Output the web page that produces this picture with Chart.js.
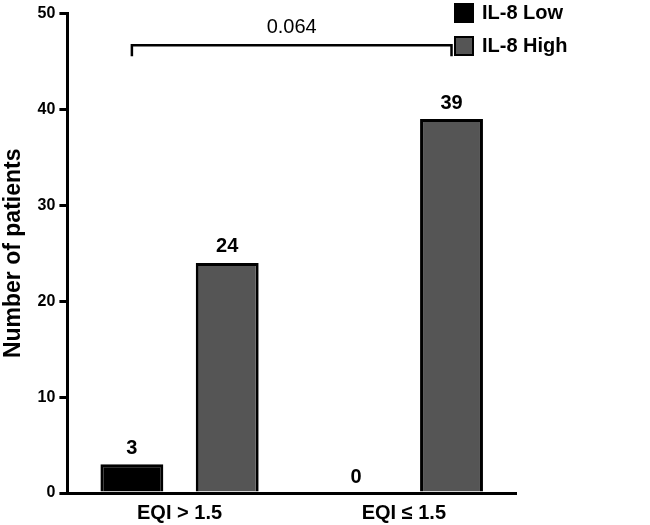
<!DOCTYPE html>
<html><head><script src="https://cdn.jsdelivr.net/npm/chart.js@4"></script>
<style>body{margin:0;background:#fff}#w{width:650px;height:525px}</style></head>
<body><div id="w"><canvas id="c"></canvas></div>
<script>
const categories=["EQI > 1.5","EQI ≤ 1.5"];
const lowValues=[3,0];
const highValues=[24,39];
const seriesNames=["IL-8 Low","IL-8 High"];
const pLabel="0.064";
const yTicks=[0,10,20,30,40,50];
const F="Arial, 'Liberation Sans', sans-serif";
const extras={id:'extras',afterDatasetsDraw(ch){
 const ctx=ch.ctx;ctx.save();
 ctx.fillStyle='#000';ctx.font='bold 20px '+F;ctx.textAlign='center';ctx.textBaseline='bottom';
 ch.data.datasets.forEach((d,i)=>{ch.getDatasetMeta(i).data.forEach((b,j)=>{ctx.fillText(String(d.data[j]),b.x,b.y-6);});});
 const b1=ch.getDatasetMeta(0).data[0],b2=ch.getDatasetMeta(1).data[1];
 const y=ch.scales.y.getPixelForValue(46.7);
 ctx.strokeStyle='#000';ctx.lineWidth=2.5;ctx.beginPath();
 ctx.moveTo(b1.x,y+11);ctx.lineTo(b1.x,y);ctx.lineTo(b2.x,y);ctx.lineTo(b2.x,y+11);ctx.stroke();
 ctx.font='20px '+F;ctx.fillText(pLabel,(b1.x+b2.x)/2,y-8);
 const cols=['#000','#555'];
 ctx.textAlign='left';ctx.textBaseline='middle';ctx.font='bold 20px '+F;
 seriesNames.forEach((n,i)=>{const ly=13+i*33;ctx.fillStyle=cols[i];ctx.fillRect(455,ly-9,18,18);
  ctx.strokeStyle='#000';ctx.lineWidth=2;ctx.strokeRect(455,ly-9,18,18);ctx.fillStyle='#000';ctx.fillText(n,482,ly);});
 ctx.restore();}};
new Chart(document.getElementById('c'),{type:'bar',
 data:{labels:categories,datasets:[
  {label:seriesNames[0],data:lowValues,backgroundColor:'#000',borderColor:'#000',borderWidth:3},
  {label:seriesNames[1],data:highValues,backgroundColor:'#555',borderColor:'#000',borderWidth:3}]},
 options:{responsive:true,maintainAspectRatio:false,animation:false,
  layout:{padding:{top:8,right:134,bottom:0,left:0}},
  categoryPercentage:0.85,barPercentage:0.66,
  plugins:{legend:{display:false},tooltip:{enabled:false}},
  scales:{
   x:{grid:{display:false},border:{color:'#000',width:3},
      ticks:{color:'#000',font:{family:F,size:20,weight:'bold'},padding:0}},
   y:{min:0,max:50,afterBuildTicks:s=>{s.ticks=yTicks.map(v=>({value:v}));},
      grid:{display:true,drawOnChartArea:false,color:'#000',lineWidth:3,tickLength:8},
      border:{color:'#000',width:3},
      ticks:{color:'#000',font:{family:F,size:16,weight:'bold'},padding:4},
      title:{display:true,text:'Number of patients',color:'#000',font:{family:F,size:23,weight:'bold'},padding:{top:0,bottom:6}}}}},
 plugins:[extras]});
</script></body></html>
